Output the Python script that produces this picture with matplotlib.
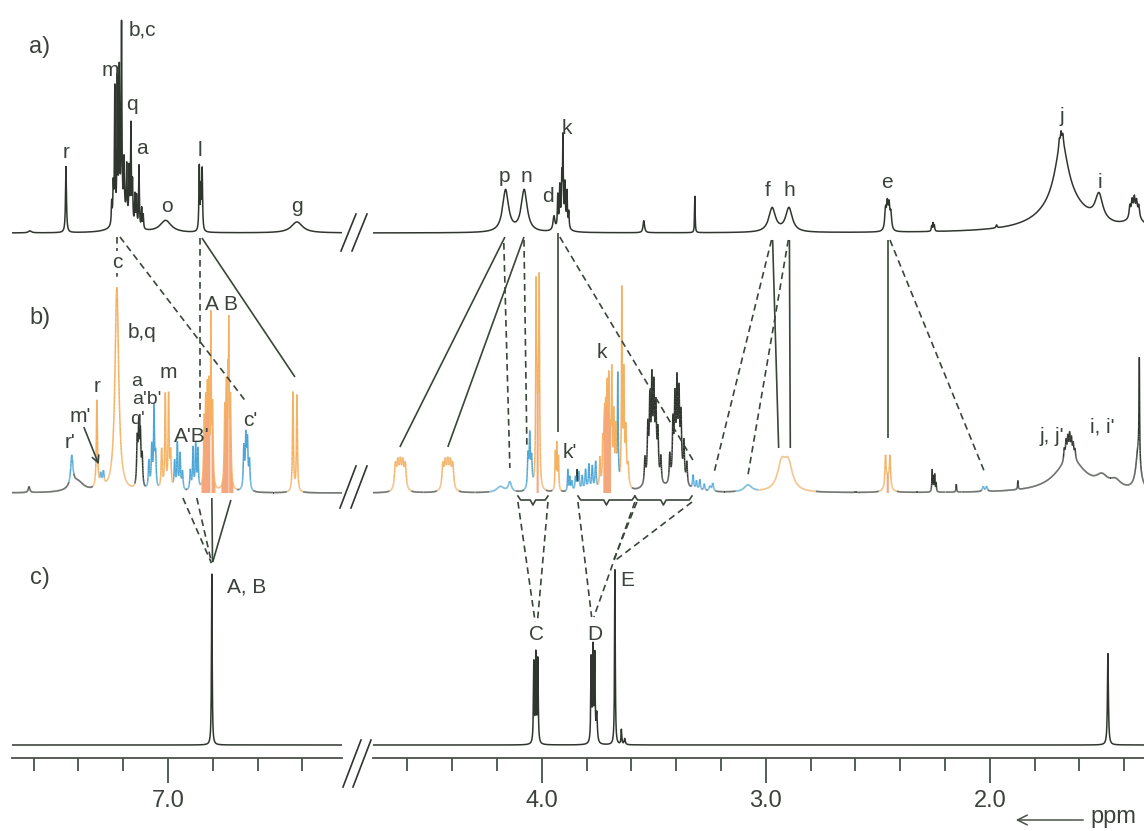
import numpy as np
import matplotlib
matplotlib.use("Agg")
import matplotlib.pyplot as plt
from matplotlib.collections import LineCollection
from matplotlib.lines import Line2D
from matplotlib.patches import FancyArrowPatch
from matplotlib.ticker import MultipleLocator, FormatStrFormatter

plt.rcParams["font.family"] = ["Liberation Sans", "DejaVu Sans"]

# ---------------------------------------------------------------------------
# Peak tables: (shift / ppm, intensity, half width / ppm)
# ---------------------------------------------------------------------------
# a) aromatic and aliphatic regions
A_AROMATIC = [
    (7.616, 2, 0.008),
    (7.455, 66, 0.0025),
    (7.200, 20, 0.03),
    (7.251, 22, 0.002), (7.244, 36, 0.002), (7.237, 132, 0.0018),
    (7.226, 138, 0.0018), (7.217, 142, 0.0018), (7.207, 185, 0.0018),
    (7.196, 50, 0.0018), (7.184, 50, 0.0018), (7.173, 50, 0.0018),
    (7.165, 96, 0.0018), (7.158, 40, 0.0018), (7.147, 30, 0.0018),
    (7.140, 30, 0.0018), (7.129, 62, 0.0018), (7.117, 20, 0.0018),
    (7.110, 14, 0.0018),
    (7.010, 12, 0.03),
    (6.860, 64, 0.002), (6.853, 40, 0.002), (6.847, 60, 0.002),
    (6.424, 11, 0.03),
]
A_ALIPHATIC = [
    (4.162, 42, 0.016), (4.079, 42, 0.016),
    (3.946, 14, 0.005),
    (3.929, 32, 0.002), (3.920, 38, 0.002), (3.911, 44, 0.002),
    (3.906, 78, 0.0015), (3.897, 38, 0.002), (3.888, 34, 0.002),
    (3.880, 16, 0.002), (3.905, 12, 0.015),
    (3.545, 12, 0.004),
    (3.317, 37, 0.0015),
    (2.972, 24, 0.018), (2.897, 24, 0.018),
    (2.466, 20, 0.004), (2.458, 24, 0.004), (2.450, 23, 0.004), (2.442, 16, 0.004),
    (2.260, 5, 0.002), (2.254, 8, 0.002), (2.248, 6, 0.002),
    (1.970, 3, 0.003),
    (1.670, 30, 0.12), (1.680, 60, 0.035),
    (1.690, 8, 0.003), (1.682, 10, 0.003), (1.674, 9, 0.003),
    (1.513, 26, 0.02),
    (1.350, 10, 0.05),
    (1.375, 12, 0.004), (1.365, 16, 0.004), (1.355, 18, 0.004),
    (1.345, 15, 0.004), (1.335, 12, 0.004),
]

# b) signals grouped by assignment set
B_UNASSIGNED = [
    (7.620, 6, 0.004),
    (7.405, 11, 0.035),
    (7.137, 45, 0.003), (7.130, 58, 0.003), (7.123, 50, 0.003), (7.115, 30, 0.003),
    (3.843, 18, 0.0015),
    (3.540, 25, 0.003), (3.527, 50, 0.003), (3.518, 70, 0.003), (3.509, 80, 0.0025),
    (3.500, 75, 0.003), (3.491, 62, 0.003), (3.482, 45, 0.003), (3.469, 25, 0.003),
    (3.505, 25, 0.02),
    (3.429, 28, 0.003), (3.415, 55, 0.003), (3.406, 72, 0.003), (3.397, 78, 0.0025),
    (3.388, 70, 0.003), (3.379, 55, 0.003), (3.366, 38, 0.003), (3.353, 22, 0.003),
    (3.392, 25, 0.02),
    (2.258, 22, 0.0015), (2.252, 15, 0.0015), (2.246, 17, 0.0015), (2.240, 9, 0.0015),
    (2.150, 8, 0.0015), (1.875, 9, 0.0015),
    (1.640, 33, 0.08),
    (1.668, 12, 0.003), (1.660, 18, 0.003), (1.652, 20, 0.003), (1.644, 22, 0.003),
    (1.636, 18, 0.003), (1.628, 14, 0.003), (1.620, 10, 0.003),
    (1.500, 10, 0.03), (1.440, 8, 0.03),
    (1.338, 40, 0.012), (1.333, 100, 0.0015),
]
B_ORANGE = [
    (7.317, 88, 0.003),
    (7.228, 205, 0.010),
    (7.028, 40, 0.003), (7.012, 95, 0.0025), (6.997, 93, 0.0025), (6.988, 35, 0.003),
    (6.808, 158, 0.0015), (6.728, 122, 0.0015),
    (6.442, 100, 0.0025), (6.424, 97, 0.0025),
    (4.654, 25, 0.005), (4.643, 25, 0.005), (4.632, 25, 0.005), (4.621, 25, 0.005),
    (4.610, 25, 0.005),
    (4.442, 25, 0.005), (4.431, 25, 0.005), (4.420, 25, 0.005), (4.409, 25, 0.005),
    (4.398, 25, 0.005),
    (4.026, 180, 0.002), (4.012, 185, 0.002),
    (3.940, 38, 0.002), (3.933, 46, 0.002), (3.926, 33, 0.002),
    (3.741, 30, 0.0025), (3.728, 40, 0.0025), (3.719, 35, 0.0025), (3.710, 35, 0.0025),
    (3.701, 40, 0.0025), (3.688, 105, 0.002), (3.679, 70, 0.0025), (3.670, 55, 0.0025),
    (3.643, 195, 0.002), (3.634, 110, 0.0025), (3.625, 55, 0.003), (3.615, 22, 0.004),
    (2.930, 26, 0.022), (2.900, 26, 0.022),
    (2.466, 30, 0.003), (2.446, 30, 0.003),
]
# unresolved orange multiplets, drawn as solid masses
B_ORANGE_DENSE = [
    (6.838, 60, 0.003), (6.831, 72, 0.003), (6.824, 82, 0.003), (6.817, 92, 0.003),
    (6.801, 80, 0.003),
    (6.746, 70, 0.003), (6.739, 85, 0.003), (6.732, 95, 0.003), (6.721, 85, 0.003),
    (4.022, 70, 0.003), (4.016, 70, 0.003),
    (3.722, 40, 0.003), (3.715, 55, 0.003), (3.708, 60, 0.003), (3.701, 55, 0.003),
    (3.694, 40, 0.003),
    (2.456, 14, 0.010),
]
B_BLUE = [
    (7.429, 30, 0.006),
    (7.300, 12, 0.004), (7.288, 14, 0.004),
    (7.085, 28, 0.003), (7.072, 42, 0.003), (7.062, 78, 0.0025), (7.055, 32, 0.003),
    (6.970, 28, 0.003), (6.958, 46, 0.0025), (6.946, 36, 0.003), (6.935, 18, 0.003),
    (6.900, 20, 0.003), (6.888, 42, 0.0025), (6.876, 45, 0.0025), (6.866, 40, 0.0025),
    (6.661, 42, 0.003), (6.652, 50, 0.003), (6.645, 46, 0.003), (6.636, 28, 0.003),
    (4.185, 6, 0.02), (4.143, 10, 0.008),
    (4.062, 33, 0.003), (4.054, 52, 0.003), (4.046, 28, 0.003),
    (3.884, 22, 0.002), (3.875, 14, 0.002), (3.866, 10, 0.003), (3.850, 14, 0.003),
    (3.835, 19, 0.003), (3.820, 15, 0.003), (3.805, 21, 0.003), (3.790, 26, 0.003),
    (3.775, 24, 0.003), (3.760, 28, 0.003),
    (3.661, 110, 0.002),
    (3.325, 14, 0.003), (3.310, 9, 0.003), (3.295, 11, 0.003), (3.275, 7, 0.003),
    (3.250, 5, 0.005), (3.237, 8, 0.004),
    (3.080, 7, 0.02),
    (2.030, 5, 0.004), (2.015, 5, 0.004),
]

# c) reference spectrum
C_PEAKS = [
    (6.804, 173, 0.0018),
    (4.036, 80, 0.002), (4.027, 88, 0.002), (4.018, 83, 0.002),
    (3.780, 83, 0.002), (3.772, 92, 0.002), (3.764, 85, 0.002), (3.755, 28, 0.003),
    (3.674, 175, 0.0018),
    (3.645, 15, 0.002), (3.630, 6, 0.003),
    (1.473, 92, 0.0025),
]

# ---------------------------------------------------------------------------
# Layout and style
# ---------------------------------------------------------------------------
W, H = 1144, 831
LEFT_LIMITS = (7.696, 6.223)
RIGHT_LIMITS = (4.754, 1.312)
BASE_A, BASE_B, BASE_C = H - 233, H - 493, H - 745
AXIS_Y = H - 758

INK = "#30362f"
LINK = "#3a463a"
TEXT = "#3b423b"
ORANGE = "#f5b060"
ORANGE_FILL = "#f4a67c"
BLUE = "#4aa5d6"
DASH = (0, (4, 2.6))


def lorentz(x, peaks):
    p = np.array(peaks, dtype=float)
    pos, hgt, wid = p[:, 0:1], p[:, 1:2], p[:, 2:3]
    return hgt / (1.0 + ((x[None, :] - pos) / wid) ** 2)


fig = plt.figure(figsize=(W / 100, H / 100), dpi=100)
axL = fig.add_axes([12 / W, 0, 330 / W, 1])
axR = fig.add_axes([373 / W, 0, 771 / W, 1])

for ax, lim in ((axL, LEFT_LIMITS), (axR, RIGHT_LIMITS)):
    ax.set_xlim(*lim)
    ax.set_ylim(0, H)
    ax.patch.set_visible(False)
    for s in ("top", "right", "left"):
        ax.spines[s].set_visible(False)
    ax.spines["bottom"].set_position(("data", AXIS_Y))
    ax.spines["bottom"].set_color("#4a514a")
    ax.spines["bottom"].set_linewidth(1.3)
    ax.yaxis.set_visible(False)
    ax.xaxis.set_major_locator(MultipleLocator(1.0))
    ax.xaxis.set_minor_locator(MultipleLocator(0.2))
    ax.xaxis.set_major_formatter(FormatStrFormatter("%.1f"))
    ax.tick_params(axis="x", which="major", direction="out", length=18, width=1.3,
                   color="#4a514a", labelsize=17, pad=5, labelcolor=TEXT)
    ax.tick_params(axis="x", which="minor", direction="out", length=9.5, width=1.3,
                   color="#4a514a")

    lo, hi = min(lim), max(lim)
    x = np.arange(lo - 0.01, hi + 0.01, 0.0004)

    # a) and c) traces
    ya = lorentz(x, A_AROMATIC + A_ALIPHATIC).sum(axis=0)
    ax.plot(x, BASE_A + ya, color=INK, lw=1.1, zorder=3)
    yc = lorentz(x, C_PEAKS).sum(axis=0)
    ax.plot(x, BASE_C + yc, color=INK, lw=1.1, zorder=3)

    # b) trace, coloured by the dominant signal set at each point
    groups = [(B_UNASSIGNED, INK), (B_ORANGE, ORANGE), (B_ORANGE_DENSE, ORANGE),
              (B_BLUE, BLUE)]
    comps, cols = [], []
    for peaks, col in groups:
        comps.append(lorentz(x, peaks))
        cols += [col] * len(peaks)
    comps = np.vstack(comps)
    yb = comps.sum(axis=0)
    dom = comps.argmax(axis=0)
    domval = comps.max(axis=0)
    cols = np.array(cols)
    pt_col = np.where(domval > 0.8, cols[dom], INK)

    dense = lorentz(x, B_ORANGE_DENSE).sum(axis=0)
    ax.fill_between(x, BASE_B, BASE_B + yb, where=dense > 0.35 * yb + 4,
                    color=ORANGE_FILL, lw=0, zorder=2)
    pts = np.column_stack([x, BASE_B + yb])
    segs = np.stack([pts[:-1], pts[1:]], axis=1)
    ax.add_collection(LineCollection(segs, colors=list(pt_col[:-1]), linewidths=1.1,
                                     zorder=3))


def link(ax, p1, p2, dashed=False, color=LINK):
    ax.plot([p1[0], p2[0]], [p1[1], p2[1]], color=color, lw=1.2,
            ls=DASH if dashed else "-", zorder=4, solid_capstyle="butt")


def brace(ax, x1, x2, y):
    mid = 0.5 * (x1 + x2)
    d = 0.012 if x1 > x2 else -0.012
    xs = [x1, x1 - d, mid + d, mid, mid - d, x2 + d, x2]
    ys = [y + 4, y, y, y - 5, y, y, y + 4]
    ax.plot(xs, ys, color=LINK, lw=1.2, zorder=4)


# a) -> b) correlations, aromatic region
link(axL, (7.214, BASE_A - 4), (6.647, BASE_B + 90), dashed=True)
link(axL, (7.228, BASE_A - 4), (7.228, BASE_B + 212), dashed=True)
link(axL, (6.857, BASE_A - 5), (6.857, BASE_B + 76), dashed=True)
link(axL, (6.848, BASE_A - 5), (6.433, BASE_B + 116))
# a) -> b) correlations, aliphatic region
link(axR, (4.165, BASE_A - 4), (4.634, BASE_B + 46))
link(axR, (4.080, BASE_A - 4), (4.420, BASE_B + 46))
link(axR, (4.170, BASE_A - 10), (4.143, BASE_B + 25), dashed=True)
link(axR, (4.080, BASE_A - 7), (4.067, BASE_B + 46), dashed=True)
link(axR, (3.929, BASE_A), (3.929, BASE_B + 61))
link(axR, (3.920, BASE_A - 4), (3.326, BASE_B + 33), dashed=True)
link(axR, (2.975, BASE_A - 7), (3.234, BASE_B + 18), dashed=True)
link(axR, (2.900, BASE_A - 7), (3.080, BASE_B + 18), dashed=True)
link(axR, (2.970, BASE_A - 7), (2.943, BASE_B + 45))
link(axR, (2.895, BASE_A - 7), (2.891, BASE_B + 45))
link(axR, (2.455, BASE_A - 7), (2.455, BASE_B + 55))
link(axR, (2.446, BASE_A - 7), (2.022, BASE_B + 20), dashed=True)
# b) -> c) correlations
link(axL, (6.933, BASE_B - 5), (6.806, BASE_C + 182), dashed=True)
link(axL, (6.871, BASE_B - 5), (6.805, BASE_C + 182), dashed=True)
link(axL, (6.804, BASE_B - 5), (6.801, BASE_C + 183))
link(axL, (6.719, BASE_B - 7), (6.800, BASE_C + 183))
brace(axR, 4.107, 3.973, BASE_B - 7)
brace(axR, 3.839, 3.585, BASE_B - 7)
brace(axR, 3.585, 3.330, BASE_B - 7)
link(axR, (4.107, BASE_B - 9), (4.030, BASE_C + 123), dashed=True)
link(axR, (3.973, BASE_B - 9), (4.020, BASE_C + 123), dashed=True)
link(axR, (3.839, BASE_B - 9), (3.778, BASE_C + 128), dashed=True)
link(axR, (3.585, BASE_B - 9), (3.768, BASE_C + 128), dashed=True)
link(axR, (3.576, BASE_B - 9), (3.683, BASE_C + 183), dashed=True)
link(axR, (3.330, BASE_B - 9), (3.670, BASE_C + 185), dashed=True)

# peak labels
LBL = dict(ha="center", va="center", fontsize=15, color=TEXT, zorder=6)
for ax, items in (
    (axL, [("r", 7.455, 679), ("m", 7.259, 761), ("b,c", 7.116, 801), ("q", 7.161, 726),
           ("a", 7.116, 683), ("o", 7.004, 624), ("l", 6.857, 681), ("g", 6.424, 625),
           ("b,q", 7.116, 498), ("r", 7.317, 444), ("m'", 7.393, 414), ("r'", 7.438, 388),
           ("m", 7.000, 458), ("A'B'", 6.893, 394), ("A", 6.804, 526), ("B", 6.723, 526),
           ("c'", 6.634, 411), ("A, B", 6.647, 244)]),
    (axR, [("p", 4.165, 654), ("n", 4.071, 654), ("d", 3.973, 634), ("k", 3.888, 703),
           ("f", 2.991, 641), ("h", 2.893, 640), ("e", 2.460, 648), ("j", 1.679, 714),
           ("i", 1.509, 649), ("k", 3.732, 479), ("k'", 3.875, 379), ("j, j'", 1.723, 394),
           ("i, i'", 1.500, 404), ("C", 4.022, 196), ("D", 3.763, 196), ("E", 3.621, 251)]),
):
    for s, px, py in items:
        ax.text(px, py, s, **LBL)

# stacked labels a / a'b' / q'
for s, px, py in (("a", 7.138, 449), ("a'b'", 7.094, 431), ("q'", 7.138, 412)):
    axL.text(px, py, s, ha="center", va="center", fontsize=14, color=TEXT, zorder=6)

axL.text(7.228, 569, "c", ha="center", va="center", fontsize=15, color=TEXT, zorder=6,
         bbox=dict(boxstyle="square,pad=0.05", fc="white", ec="none"))
axL.annotate("", xy=(7.304, 364), xytext=(7.379, 406),
             arrowprops=dict(arrowstyle="->,head_length=0.5,head_width=0.25", lw=1.2,
                             color=LINK), zorder=6)

# panel labels
for s, py in (("a)", 47), ("b)", 318), ("c)", 578)):
    fig.text(40 / W, 1 - py / H, s, ha="center", va="center", fontsize=17, color=TEXT)

# axis direction marker
fig.text(1090 / W, 1 - 823 / H, "ppm", ha="left", va="baseline", fontsize=17, color=TEXT)
fig.add_artist(FancyArrowPatch(
    (1086 / W, 1 - 820 / H), (1013 / W, 1 - 820 / H), transform=fig.transFigure,
    arrowstyle="->,head_length=7,head_width=3.5", lw=1.1, color="#4a514a"))

# break marks between the two chemical-shift ranges
for (x1, y1, x2, y2) in ((341, 251, 356, 214), (352, 251, 367, 214),
                         (340, 508, 356, 466), (351, 508, 367, 466),
                         (343, 787, 361, 740), (353, 787, 371, 740)):
    fig.add_artist(Line2D([x1 / W, x2 / W], [1 - y1 / H, 1 - y2 / H],
                          transform=fig.transFigure, color=INK, lw=1.2))

fig.savefig("out.png", dpi=100)
